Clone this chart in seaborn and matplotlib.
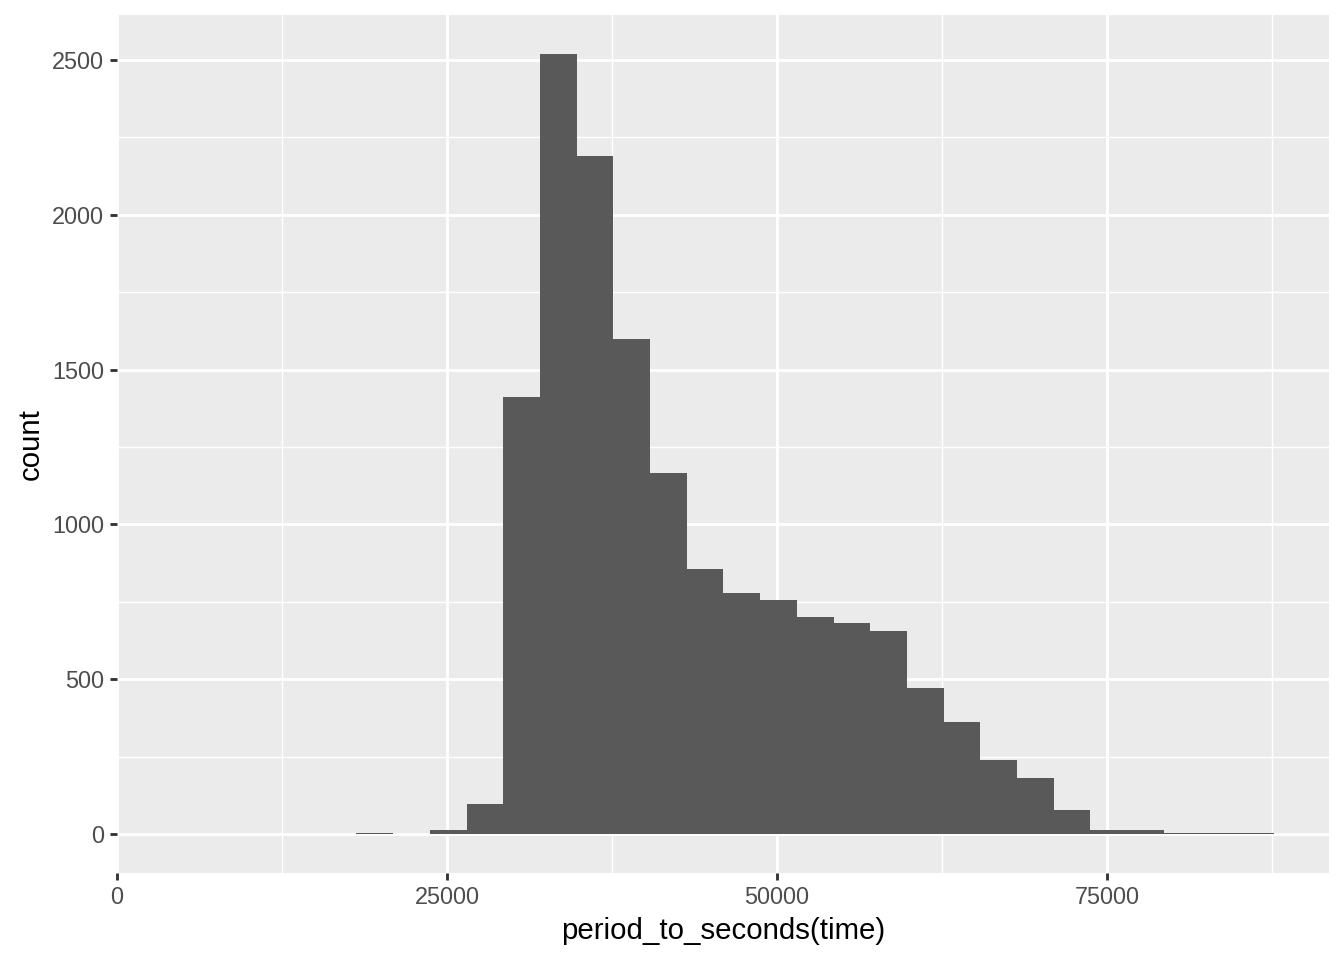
import numpy as np
import pandas as pd
import matplotlib
matplotlib.use('Agg')
import matplotlib.pyplot as plt
from matplotlib.ticker import MultipleLocator
import seaborn as sns

# Histogram counts (30 bins, ggplot default)
bin_start = 4243
bin_width = 2780.4
counts = [0, 0, 0, 0, 0, 3, 0, 13, 97, 1410,
          2519, 2190, 1597, 1165, 855, 777, 755, 700, 681, 655,
          471, 361, 239, 181, 77, 13, 13, 4, 4, 4]
x_ticks = [0, 25000, 50000, 75000]
y_ticks = [0, 500, 1000, 1500, 2000, 2500]

edges = bin_start + bin_width * np.arange(len(counts) + 1)
df = pd.DataFrame({'mid': (edges[:-1] + edges[1:]) / 2, 'n': counts})

# ggplot2 theme_gray look
sns.set_theme(style='darkgrid', rc={
    'axes.facecolor': '#EBEBEB',
    'grid.color': 'white',
    'axes.edgecolor': 'none',
    'xtick.color': '#333333',
    'ytick.color': '#333333',
    'xtick.labelcolor': '#4D4D4D',
    'ytick.labelcolor': '#4D4D4D',
    'xtick.bottom': True,
    'ytick.left': True,
})
plt.rcParams['font.family'] = ['Liberation Sans', 'DejaVu Sans']

fig = plt.figure(figsize=(7, 5), dpi=192)
ax = fig.add_axes([117 / 1344, 1 - 873 / 960, (1329 - 117) / 1344, (873 - 15) / 960])

sns.histplot(data=df, x='mid', weights='n', binwidth=bin_width,
             binrange=(edges[0], edges[-1]), color='#595959',
             alpha=1, linewidth=0, edgecolor='none', ax=ax, zorder=2)

# limits with 5% expansion like ggplot
span = edges[-1] - edges[0]
ax.set_xlim(edges[0] - 0.05 * span, edges[-1] + 0.05 * span)
ymax = max(counts)
ax.set_ylim(-0.05 * ymax, 1.05 * ymax)

ax.set_xticks(x_ticks)
ax.set_yticks(y_ticks)
ax.xaxis.set_minor_locator(MultipleLocator(12500))
ax.yaxis.set_minor_locator(MultipleLocator(250))
ax.grid(which='major', color='white', linewidth=1.07, zorder=0)
ax.grid(which='minor', color='white', linewidth=0.53, zorder=0)
ax.set_axisbelow(True)
ax.tick_params(which='major', length=2.75, width=1.07, labelsize=8.8, pad=2.2)
ax.tick_params(which='minor', length=0)
for s in ax.spines.values():
    s.set_visible(False)

ax.set_xlabel('period_to_seconds(time)', fontsize=11, color='black', labelpad=2.75)
ax.set_ylabel('count', fontsize=11, color='black', labelpad=2.75)

fig.savefig('out.png', dpi=192)
